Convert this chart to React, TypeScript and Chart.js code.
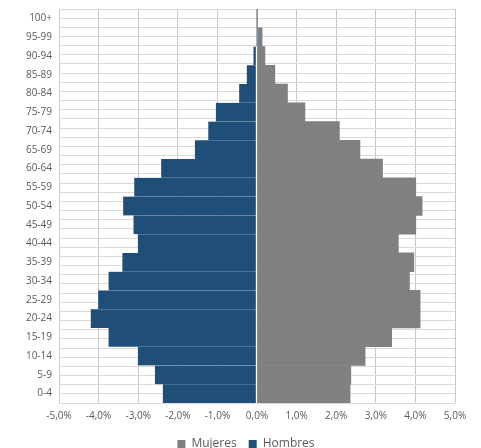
import { useEffect, useRef } from 'react';
import { Chart, registerables } from 'chart.js';

Chart.register(...registerables);

const ageGroups = ['0-4', '5-9', '10-14', '15-19', '20-24', '25-29', '30-34', '35-39', '40-44', '45-49', '50-54', '55-59', '60-64', '65-69', '70-74', '75-79', '80-84', '85-89', '90-94', '95-99', '100+'];
const mujeres = [2.35, 2.37, 2.73, 3.40, 4.12, 4.12, 3.85, 3.96, 3.57, 4.01, 4.17, 4.01, 3.17, 2.60, 2.08, 1.21, 0.77, 0.45, 0.20, 0.13, 0.0];
const hombres = [-2.38, -2.58, -3.01, -3.75, -4.20, -4.01, -3.75, -3.40, -3.01, -3.12, -3.38, -3.10, -2.42, -1.57, -1.23, -1.04, -0.45, -0.26, -0.09, -0.02, 0.0];
const xTickMin = -5;
const xTickMax = 5;

const FONT = '"Open Sans", "DejaVu Sans", sans-serif';

export default function App() {
  const ref = useRef<HTMLCanvasElement | null>(null);

  useEffect(() => {
    document.body.style.margin = '0';
    const canvas = ref.current;
    if (!canvas) return;
    const chart = new Chart(canvas, {
      type: 'bar',
      data: {
        labels: ageGroups,
        datasets: [
          {
            label: 'Mujeres',
            data: mujeres,
            backgroundColor: '#808080',
            borderWidth: 0,
            barPercentage: 1,
            categoryPercentage: 1,
          },
          {
            label: 'Hombres',
            data: hombres,
            backgroundColor: '#1f4e79',
            borderColor: '#ffffff',
            borderWidth: { top: 0, bottom: 0, left: 0, right: 1 },
            borderSkipped: false,
            barPercentage: 1,
            categoryPercentage: 1,
          },
        ],
      },
      options: {
        indexAxis: 'y',
        responsive: false,
        animation: false,
        layout: { padding: { top: 9, right: 0, left: 11, bottom: -12 } },
        plugins: {
          tooltip: { enabled: false },
          legend: {
            position: 'bottom',
            labels: {
              boxWidth: 8,
              boxHeight: 8,
              padding: 12,
              color: '#595959',
              font: { family: FONT, size: 12 },
              generateLabels: (c: any) =>
                c.data.datasets.map((ds: any, i: number) => ({
                  text: ds.label,
                  fillStyle: ds.backgroundColor,
                  strokeStyle: ds.backgroundColor,
                  lineWidth: 0,
                  hidden: false,
                  datasetIndex: i,
                  fontColor: '#595959',
                })),
            },
          },
        },
        scales: {
          x: {
            type: 'linear',
            stacked: true,
            min: xTickMin,
            max: xTickMax,
            ticks: {
              stepSize: 1,
              padding: 7,
              color: '#595959',
              font: { family: FONT, size: 10 },
              callback: (v: any) => Number(v).toFixed(1).replace('.', ',') + '%',
            },
            grid: { color: '#c8c8c8', drawTicks: false },
            border: { display: false },
            afterFit: (s: any) => {
              s.height = 23;
              s.paddingRight = 26;
            },
          },
          y: {
            type: 'category',
            stacked: true,
            reverse: true,
            position: 'left',
            ticks: {
              padding: 7,
              color: '#595959',
              font: { family: FONT, size: 10 },
              autoSkip: false,
            },
            grid: { display: false, drawTicks: false },
            border: { display: false },
            afterFit: (s: any) => {
              s.width = 48;
              s.paddingTop = 0;
              s.paddingBottom = 0;
            },
          },
          y2: {
            type: 'linear',
            position: 'right',
            min: -0.5,
            max: ageGroups.length - 0.5,
            ticks: { display: false, stepSize: 0.5, maxTicksLimit: 200, autoSkip: false },
            grid: { color: '#dadada', drawTicks: false },
            border: { display: false },
            afterFit: (s: any) => {
              s.width = 0;
              s.paddingTop = 0;
              s.paddingBottom = 0;
            },
          },
        },
      },
    } as any);
    return () => chart.destroy();
  }, []);

  return (
    <div style={{ width: 481, height: 448 }}>
      <canvas ref={ref} width={481} height={448} />
    </div>
  );
}
